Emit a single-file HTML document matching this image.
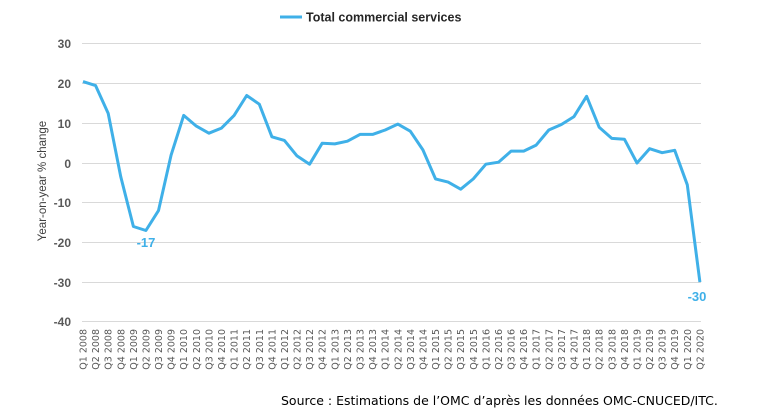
<!DOCTYPE html>
<html><head><meta charset="utf-8"><style>
html,body{margin:0;padding:0;background:#fff;width:761px;height:420px;overflow:hidden}
</style></head><body>
<svg width="761" height="420" xmlns="http://www.w3.org/2000/svg">
<g stroke="#d9d9d9" stroke-width="1">
<line x1="82" x2="701" y1="43.5" y2="43.5"/>
<line x1="82" x2="701" y1="83.5" y2="83.5"/>
<line x1="82" x2="701" y1="123.5" y2="123.5"/>
<line x1="82" x2="701" y1="163.5" y2="163.5"/>
<line x1="82" x2="701" y1="202.5" y2="202.5"/>
<line x1="82" x2="701" y1="242.5" y2="242.5"/>
<line x1="82" x2="701" y1="282.5" y2="282.5"/>
<line x1="82" x2="701" y1="321.5" y2="321.5"/>
</g>
<g font-family="Liberation Sans, sans-serif" font-size="12" fill="#595959" text-anchor="end" font-weight="bold">
<text x="71" y="48">30</text><text x="71" y="88">20</text><text x="71" y="128">10</text><text x="71" y="168">0</text>
<text x="71" y="207">-10</text><text x="71" y="247">-20</text><text x="71" y="287">-30</text><text x="71" y="326">-40</text>
</g>
<text transform="translate(46,181) rotate(-90)" font-family="Liberation Sans, sans-serif" font-size="11.5" fill="#404040" text-anchor="middle">Year-on-year % change</text>
<line x1="280" x2="302" y1="17" y2="17" stroke="#3fb0e8" stroke-width="3"/>
<text x="306" y="21.5" font-family="Liberation Sans, sans-serif" font-size="12.5" font-weight="bold" fill="#262626">Total commercial services</text>
<polyline fill="none" stroke="#3fb0e8" stroke-width="3" stroke-linejoin="round" points="83,81.6 95.6,85.6 108.2,113.4 120.8,176.9 133.4,226.5 145.9,230.5 158.5,210.6 171.1,155.1 183.7,115.4 196.3,126.1 208.9,133.2 221.5,128.1 234.1,115.4 246.7,95.5 259.3,104.2 271.9,136.8 284.4,140.4 297,155.9 309.6,164.2 322.2,143.2 334.8,143.9 347.4,141.2 360,134.4 372.6,134.4 385.2,130 397.8,124.1 410.3,131.2 422.9,149.9 435.5,178.9 448.1,182.1 460.7,189.2 473.3,178.9 485.9,164.2 498.5,162.2 511.1,151.1 523.7,151.1 536.2,145.1 548.8,130 561.4,124.5 574,116.6 586.6,96.3 599.2,127.3 611.8,138.4 624.4,139.2 637,163 649.6,148.7 662.1,152.7 674.7,150.3 687.3,184.8 699.9,282.1"/>
<text x="146" y="247" font-family="Liberation Sans, sans-serif" font-size="13" font-weight="bold" fill="#3fb0e8" text-anchor="middle">-17</text>
<text x="697" y="301" font-family="Liberation Sans, sans-serif" font-size="13" font-weight="bold" fill="#3fb0e8" text-anchor="middle">-30</text>
<g font-family="DejaVu Sans, sans-serif" font-size="9.5" fill="#595959" text-anchor="end">
<text transform="translate(86.5,329) rotate(-90)">Q1 2008</text>
<text transform="translate(99.1,329) rotate(-90)">Q2 2008</text>
<text transform="translate(111.7,329) rotate(-90)">Q3 2008</text>
<text transform="translate(124.3,329) rotate(-90)">Q4 2008</text>
<text transform="translate(136.9,329) rotate(-90)">Q1 2009</text>
<text transform="translate(149.4,329) rotate(-90)">Q2 2009</text>
<text transform="translate(162,329) rotate(-90)">Q3 2009</text>
<text transform="translate(174.6,329) rotate(-90)">Q4 2009</text>
<text transform="translate(187.2,329) rotate(-90)">Q1 2010</text>
<text transform="translate(199.8,329) rotate(-90)">Q2 2010</text>
<text transform="translate(212.4,329) rotate(-90)">Q3 2010</text>
<text transform="translate(225,329) rotate(-90)">Q4 2010</text>
<text transform="translate(237.6,329) rotate(-90)">Q1 2011</text>
<text transform="translate(250.2,329) rotate(-90)">Q2 2011</text>
<text transform="translate(262.8,329) rotate(-90)">Q3 2011</text>
<text transform="translate(275.4,329) rotate(-90)">Q4 2011</text>
<text transform="translate(287.9,329) rotate(-90)">Q1 2012</text>
<text transform="translate(300.5,329) rotate(-90)">Q2 2012</text>
<text transform="translate(313.1,329) rotate(-90)">Q3 2012</text>
<text transform="translate(325.7,329) rotate(-90)">Q4 2012</text>
<text transform="translate(338.3,329) rotate(-90)">Q1 2013</text>
<text transform="translate(350.9,329) rotate(-90)">Q2 2013</text>
<text transform="translate(363.5,329) rotate(-90)">Q3 2013</text>
<text transform="translate(376.1,329) rotate(-90)">Q4 2013</text>
<text transform="translate(388.7,329) rotate(-90)">Q1 2014</text>
<text transform="translate(401.3,329) rotate(-90)">Q2 2014</text>
<text transform="translate(413.8,329) rotate(-90)">Q3 2014</text>
<text transform="translate(426.4,329) rotate(-90)">Q4 2014</text>
<text transform="translate(439,329) rotate(-90)">Q1 2015</text>
<text transform="translate(451.6,329) rotate(-90)">Q2 2015</text>
<text transform="translate(464.2,329) rotate(-90)">Q3 2015</text>
<text transform="translate(476.8,329) rotate(-90)">Q4 2015</text>
<text transform="translate(489.4,329) rotate(-90)">Q1 2016</text>
<text transform="translate(502,329) rotate(-90)">Q2 2016</text>
<text transform="translate(514.6,329) rotate(-90)">Q3 2016</text>
<text transform="translate(527.2,329) rotate(-90)">Q4 2016</text>
<text transform="translate(539.7,329) rotate(-90)">Q1 2017</text>
<text transform="translate(552.3,329) rotate(-90)">Q2 2017</text>
<text transform="translate(564.9,329) rotate(-90)">Q3 2017</text>
<text transform="translate(577.5,329) rotate(-90)">Q4 2017</text>
<text transform="translate(590.1,329) rotate(-90)">Q1 2018</text>
<text transform="translate(602.7,329) rotate(-90)">Q2 2018</text>
<text transform="translate(615.3,329) rotate(-90)">Q3 2018</text>
<text transform="translate(627.9,329) rotate(-90)">Q4 2018</text>
<text transform="translate(640.5,329) rotate(-90)">Q1 2019</text>
<text transform="translate(653.1,329) rotate(-90)">Q2 2019</text>
<text transform="translate(665.6,329) rotate(-90)">Q3 2019</text>
<text transform="translate(678.2,329) rotate(-90)">Q4 2019</text>
<text transform="translate(690.8,329) rotate(-90)">Q1 2020</text>
<text transform="translate(703.4,329) rotate(-90)">Q2 2020</text>
</g>
<text x="281" y="405" font-family="DejaVu Sans, sans-serif" font-size="12.5" fill="#000">Source : Estimations de l’OMC d’après les données OMC-CNUCED/ITC.</text>
</svg>
</body></html>
